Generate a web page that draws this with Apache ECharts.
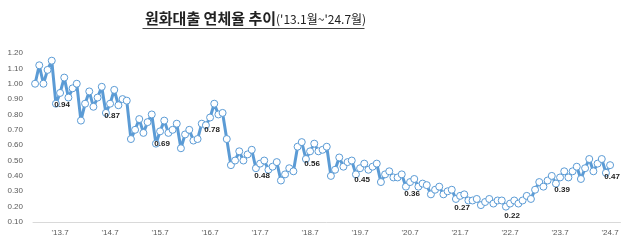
<!DOCTYPE html>
<html><head><meta charset="utf-8">
<script src="https://cdn.jsdelivr.net/npm/echarts@6/dist/echarts.min.js"></script>
<style>html,body{margin:0;padding:0;background:#fff}#c{width:640px;height:244px}</style>
</head><body><div id="c"></div>
<script>
// months '13.1 .. '24.9 (axis spans a little beyond the last value)
var categories = [];
for (var y = 13; y <= 24; y++) { for (var m = 1; m <= 12; m++) { if (y === 24 && m > 9) break; categories.push("'" + y + "." + m); } }

var rate2013 = [1.00, 1.12, 1.00, 1.09, 1.15, 0.87, 0.94, 1.04, 0.91, 0.97, 1.00, 0.76];
var rate2014 = [0.87, 0.95, 0.85, 0.91, 0.98, 0.81, 0.87, 0.96, 0.86, 0.90, 0.89, 0.64];
var rate2015 = [0.70, 0.77, 0.68, 0.75, 0.80, 0.61, 0.69, 0.76, 0.68, 0.70, 0.74, 0.58];
var rate2016 = [0.67, 0.70, 0.63, 0.64, 0.74, 0.73, 0.78, 0.87, 0.80, 0.81, 0.64, 0.47];
var rate2017 = [0.50, 0.56, 0.50, 0.54, 0.57, 0.45, 0.48, 0.50, 0.44, 0.46, 0.49, 0.37];
var rate2018 = [0.41, 0.45, 0.43, 0.59, 0.62, 0.51, 0.56, 0.61, 0.56, 0.57, 0.59, 0.40];
var rate2019 = [0.44, 0.52, 0.46, 0.49, 0.50, 0.41, 0.45, 0.48, 0.44, 0.46, 0.48, 0.36];
var rate2020 = [0.41, 0.43, 0.39, 0.39, 0.41, 0.33, 0.36, 0.38, 0.33, 0.35, 0.34, 0.28];
var rate2021 = [0.31, 0.33, 0.28, 0.30, 0.31, 0.25, 0.27, 0.28, 0.24, 0.24, 0.25, 0.21];
var rate2022 = [0.23, 0.25, 0.22, 0.24, 0.24, 0.20, 0.22, 0.24, 0.22, 0.24, 0.27, 0.25];
var rate2023 = [0.31, 0.36, 0.33, 0.37, 0.40, 0.35, 0.39, 0.43, 0.39, 0.43, 0.46, 0.38];
var rate2024 = [0.45, 0.51, 0.43, 0.48, 0.51, 0.42, 0.47];

var yTicks = [0.10, 0.20, 0.30, 0.40, 0.50, 0.60, 0.70, 0.80, 0.90, 1.00, 1.10, 1.20];

var values = [].concat(rate2013, rate2014, rate2015, rate2016, rate2017, rate2018,
  rate2019, rate2020, rate2021, rate2022, rate2023, rate2024);

var blue = '#5B9BD5';
var seriesData = values.map(function (v, i) {
  if (i % 12 === 6) {
    return { value: v, label: { show: true } };
  }
  return v;
});

var chart = echarts.init(document.getElementById('c'), null, { renderer: 'canvas' });
chart.setOption({
  animation: false,
  title: {
    left: 140, top: 6,
    text: '{a|원화대출 연체율 추이}{b|(\'13.1월~\'24.7월)}',
    textStyle: {
      rich: {
        a: { fontFamily: 'Noto Sans CJK KR', fontWeight: 'bold', fontSize: 15, color: '#222' },
        b: { fontFamily: 'Noto Sans CJK KR', fontWeight: 'normal', fontSize: 12, color: '#222', padding: [2, 0, 0, 0] }
      }
    }
  },
  graphic: [{
    type: 'line', left: 140, top: 26,
    shape: { x1: 0, y1: 0, x2: 222, y2: 0 },
    style: { stroke: '#444', lineWidth: 1 }
  }],
  grid: { left: 33, right: 19.5, top: 53, bottom: 22 },
  xAxis: {
    type: 'category',
    data: categories,
    boundaryGap: true,
    axisTick: { show: false },
    axisLine: { lineStyle: { color: '#d9d9d9' } },
    axisLabel: {
      interval: function (idx) { return idx % 12 === 6; },
      fontSize: 8, color: '#595959', margin: 7,
      fontFamily: 'Liberation Sans'
    },
    splitLine: { show: false }
  },
  yAxis: {
    type: 'value',
    min: yTicks[0], max: yTicks[yTicks.length - 1], interval: 0.1,
    axisLine: { show: false },
    axisTick: { show: false },
    splitLine: { show: false },
    axisLabel: {
      fontSize: 8, color: '#595959', margin: 10,
      fontFamily: 'Liberation Sans',
      formatter: function (v) { return v.toFixed(2); }
    }
  },
  series: [{
    type: 'line',
    data: seriesData,
    showAllSymbol: true,
    symbol: 'circle',
    symbolSize: 7,
    itemStyle: { color: '#fff', borderColor: blue, borderWidth: 1 },
    lineStyle: { color: blue, width: 3 },
    label: {
      show: false,
      position: 'bottom',
      distance: 4,
      offset: [2, 0],
      fontSize: 8,
      fontWeight: 'bold',
      color: '#222',
      fontFamily: 'Liberation Sans',
      formatter: function (p) { return p.value.toFixed(2); }
    },
    emphasis: { disabled: true }
  }]
});
</script>
</body></html>
